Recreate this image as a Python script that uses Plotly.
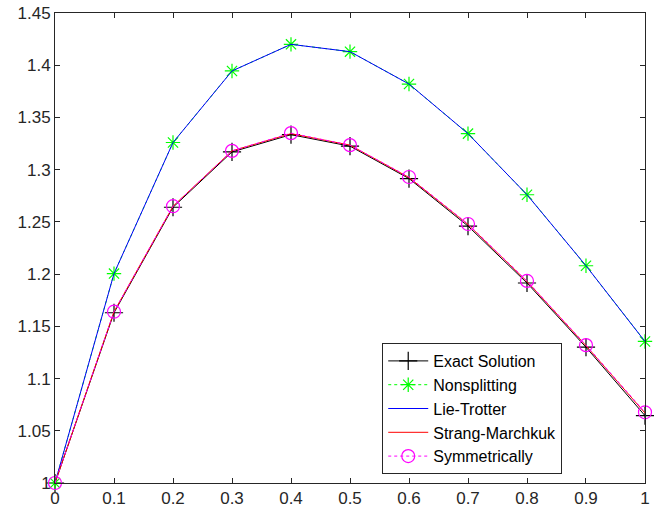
import plotly.graph_objects as go

x = [0, 0.1, 0.2, 0.3, 0.4, 0.5, 0.6, 0.7, 0.8, 0.9, 1.0]
exact = [1.0, 1.1630, 1.2640, 1.3170, 1.3335, 1.3225, 1.2915, 1.2460, 1.1915, 1.1300, 1.0645]
nonsplit = [1.0, 1.2005, 1.3260, 1.3945, 1.4200, 1.4130, 1.3820, 1.3345, 1.2760, 1.2080, 1.1355]
lie = [1.0, 1.2005, 1.3260, 1.3945, 1.4200, 1.4130, 1.3820, 1.3345, 1.2760, 1.2080, 1.1355]
strang = [1.0, 1.1640, 1.2650, 1.3180, 1.3345, 1.3235, 1.2925, 1.2475, 1.1930, 1.1315, 1.0670]
symm = [1.0, 1.1640, 1.2650, 1.3180, 1.3350, 1.3235, 1.2930, 1.2480, 1.1935, 1.1320, 1.0677]

xticks = [0, 0.1, 0.2, 0.3, 0.4, 0.5, 0.6, 0.7, 0.8, 0.9, 1]
xticklabels = ["0", "0.1", "0.2", "0.3", "0.4", "0.5", "0.6", "0.7", "0.8", "0.9", "1"]
yticks = [1, 1.05, 1.1, 1.15, 1.2, 1.25, 1.3, 1.35, 1.4, 1.45]
yticklabels = ["1", "1.05", "1.1", "1.15", "1.2", "1.25", "1.3", "1.35", "1.4", "1.45"]

fig = go.Figure()
fig.add_trace(go.Scatter(x=x, y=exact, name="Exact Solution", mode="lines+markers", cliponaxis=False,
                         line=dict(color="black", width=1),
                         marker=dict(symbol="cross-thin-open", size=13, line=dict(color="black", width=1.2))))
fig.add_trace(go.Scatter(x=x, y=nonsplit, name="Nonsplitting", mode="lines+markers", cliponaxis=False,
                         line=dict(color="#00ff00", width=1, dash="dot"),
                         marker=dict(symbol="asterisk-open", size=12, line=dict(color="#00ff00", width=1.2))))
fig.add_trace(go.Scatter(x=x, y=lie, name="Lie-Trotter", mode="lines",
                         line=dict(color="#0000ff", width=1)))
fig.add_trace(go.Scatter(x=x, y=strang, name="Strang-Marchkuk", mode="lines",
                         line=dict(color="#ff0000", width=1)))
fig.add_trace(go.Scatter(x=x, y=symm, name="Symmetrically", mode="lines+markers", cliponaxis=False,
                         line=dict(color="#ff00ff", width=1, dash="dot"),
                         marker=dict(symbol="circle-open", size=13, line=dict(color="#ff00ff", width=1.2))))

axis_common = dict(showline=True, linecolor="#262626", linewidth=1, mirror="ticks",
                   ticks="inside", ticklen=5, tickcolor="#262626", showgrid=False,
                   zeroline=False, ticklabeloverflow="allow",
                   tickfont=dict(family="Liberation Sans, Arial", size=17, color="#262626"))

pl, pr, pt, pb = 55, 650, 13, 483

fig.update_layout(
    width=654, height=515,
    margin=dict(l=55, r=4, t=13, b=32),
    plot_bgcolor="white", paper_bgcolor="white",
    xaxis=dict(range=[0, 1.00001], tickvals=xticks, ticktext=xticklabels, **axis_common),
    yaxis=dict(range=[0.99999, 1.45001], tickvals=yticks, ticktext=yticklabels, **axis_common),
    legend=dict(x=(385 - pl) / (pr - pl), y=(pb - 343) / (pb - pt), xanchor="left", yanchor="top",
                bgcolor="white", bordercolor="#262626", borderwidth=1,
                font=dict(family="Liberation Sans, Arial", size=16, color="black"),
                tracegroupgap=0, itemwidth=40),
    showlegend=True,
)

fig.write_html("out.html")
